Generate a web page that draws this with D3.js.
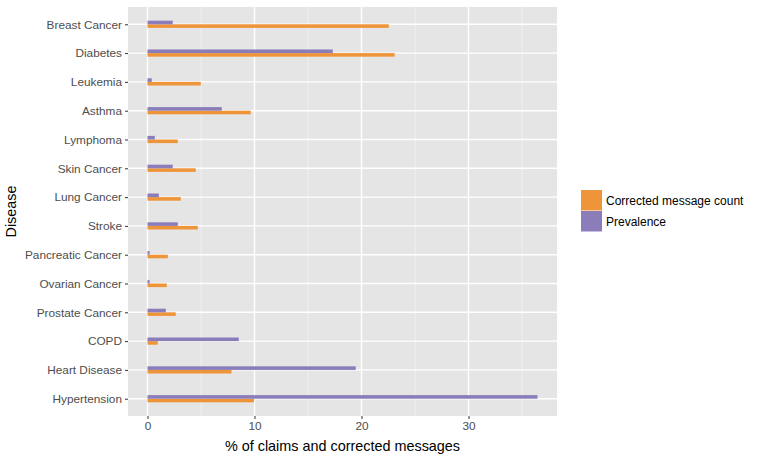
<!DOCTYPE html>
<html>
<head>
<meta charset="utf-8">
<script src="https://cdn.jsdelivr.net/npm/d3@7"></script>
<style>
  body { margin: 0; background: #fff; }
  text { font-family: "Liberation Sans", Arial, sans-serif; }
</style>
</head>
<body>
<svg></svg>
<script>
let diseases = ["Breast Cancer", "Diabetes", "Leukemia", "Asthma", "Lymphoma", "Skin Cancer",
  "Lung Cancer", "Stroke", "Pancreatic Cancer", "Ovarian Cancer", "Prostate Cancer", "COPD",
  "Heart Disease", "Hypertension"];
let corrected = [22.55, 23.1, 4.98, 9.65, 2.83, 4.51, 3.11, 4.7, 1.9, 1.8, 2.64, 0.96, 7.85, 9.95];
let prevalence = [2.36, 17.32, 0.4, 6.94, 0.68, 2.36, 1.06, 2.83, 0.2, 0.2, 1.71, 8.53, 19.46, 36.45];
let seriesNames = ["Corrected message count", "Prevalence"];
let xTicks = [0, 10, 20, 30];
let xMinor = [5, 15, 25, 35];

let colors = ["#EF9539", "#8A7DBA"];

let width = 758;
let height = 460;
let panel = { left: 128, right: 557, top: 7, bottom: 416 };

let svg = d3.select("svg")
    .attr("width", width)
    .attr("height", height);

let maxVal = d3.max(prevalence.concat(corrected));
let pad = maxVal * 0.05;

let xScale = d3.scaleLinear()
    .domain([-pad, maxVal + pad])
    .range([panel.left, panel.right]);

let yScale = d3.scalePoint()
    .domain(diseases)
    .range([panel.top, panel.bottom])
    .padding(0.6);

let step = yScale.step();
let barH = step * 0.125;

// panel background
svg.append("rect")
    .attr("x", panel.left)
    .attr("y", panel.top)
    .attr("width", panel.right - panel.left)
    .attr("height", panel.bottom - panel.top)
    .attr("fill", "#E5E5E5");

// minor grid
svg.selectAll(".minor")
    .data(xMinor.filter(d => xScale(d) < panel.right))
    .enter()
    .append("line")
    .attr("x1", d => xScale(d))
    .attr("x2", d => xScale(d))
    .attr("y1", panel.top)
    .attr("y2", panel.bottom)
    .attr("stroke", "#F4F4F4")
    .attr("stroke-width", 0.7);

// major grid
svg.selectAll(".majorx")
    .data(xTicks)
    .enter()
    .append("line")
    .attr("x1", d => xScale(d))
    .attr("x2", d => xScale(d))
    .attr("y1", panel.top)
    .attr("y2", panel.bottom)
    .attr("stroke", "#FFFFFF")
    .attr("stroke-width", 1.4);

svg.selectAll(".majory")
    .data(diseases)
    .enter()
    .append("line")
    .attr("x1", panel.left)
    .attr("x2", panel.right)
    .attr("y1", d => yScale(d))
    .attr("y2", d => yScale(d))
    .attr("stroke", "#FFFFFF")
    .attr("stroke-width", 1.4);

// bars
let rows = diseases.map((d, i) => ({ name: d, vals: [corrected[i], prevalence[i]] }));

svg.selectAll(".bar-c")
    .data(rows)
    .enter()
    .append("rect")
    .attr("x", xScale(0))
    .attr("y", d => yScale(d.name))
    .attr("width", d => xScale(d.vals[0]) - xScale(0))
    .attr("height", barH)
    .attr("fill", colors[0]);

svg.selectAll(".bar-p")
    .data(rows)
    .enter()
    .append("rect")
    .attr("x", xScale(0))
    .attr("y", d => yScale(d.name) - barH)
    .attr("width", d => xScale(d.vals[1]) - xScale(0))
    .attr("height", barH)
    .attr("fill", colors[1]);

// axes
let xAxis = d3.axisBottom(xScale).tickValues(xTicks).tickSize(3).tickPadding(3);
let gx = svg.append("g")
    .attr("transform", "translate(0," + panel.bottom + ")")
    .call(xAxis);
gx.select(".domain").remove();
gx.selectAll("line").attr("stroke", "#333333").attr("stroke-width", 1);
gx.selectAll("text").attr("fill", "#4D4D4D").style("font-size", "11.8px");

let yAxis = d3.axisLeft(yScale).tickSize(3).tickPadding(3);
let gy = svg.append("g")
    .attr("transform", "translate(" + panel.left + ",0)")
    .call(yAxis);
gy.select(".domain").remove();
gy.selectAll("line").attr("stroke", "#333333").attr("stroke-width", 1);
gy.selectAll("text").attr("fill", "#4D4D4D").style("font-size", "11.8px");

// axis titles
svg.append("text")
    .attr("x", (panel.left + panel.right) / 2)
    .attr("y", 451)
    .attr("text-anchor", "middle")
    .style("font-size", "14.4px")
    .attr("fill", "#000")
    .text("% of claims and corrected messages");

svg.append("text")
    .attr("transform", "translate(16," + (panel.top + panel.bottom) / 2 + ") rotate(-90)")
    .attr("text-anchor", "middle")
    .style("font-size", "14.4px")
    .attr("fill", "#000")
    .text("Disease");

// legend
let legend = svg.selectAll(".legend")
    .data(seriesNames)
    .enter()
    .append("g")
    .attr("transform", (d, i) => "translate(581," + (190 + i * 21) + ")");

legend.append("rect")
    .attr("width", 21)
    .attr("height", 20.5)
    .attr("fill", (d, i) => colors[i]);

legend.append("text")
    .attr("x", 25)
    .attr("y", 14.5)
    .style("font-size", "12px")
    .attr("fill", "#000")
    .text(d => d);
</script>
</body>
</html>
